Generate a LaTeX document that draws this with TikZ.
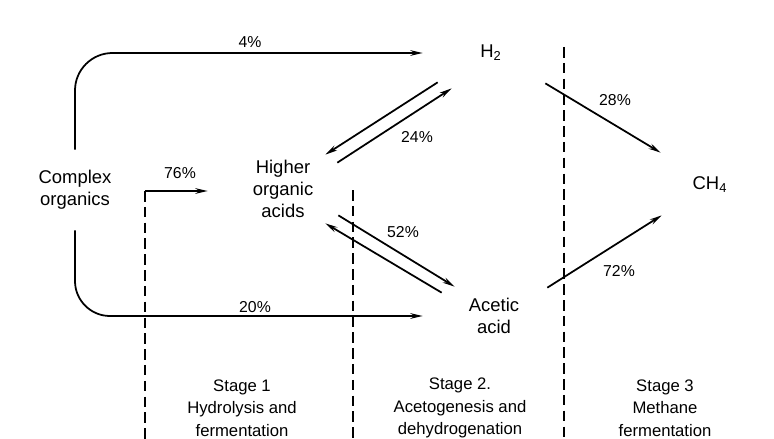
\documentclass[tikz,border=0pt]{standalone}
\usepackage{fontspec}
\setmainfont{Liberation Sans}
\usetikzlibrary{arrows.meta}

\begin{document}
\begin{tikzpicture}[x=0.02cm,y=-0.02cm,
        blob/.style={inner sep=0pt,align=center,font=\fontsize{10.5}{12.5}\selectfont},
        pct/.style={font=\fontsize{9}{11}\selectfont},
        stage/.style={align=center,font=\fontsize{9.5}{12.8}\selectfont},
        flow/.style={line width=1pt,-{Stealth[length=7pt,width=3.2pt]}},
        border/.style={line width=0.9pt,dash pattern=on 6pt off 3pt}]
    \useasboundingbox (0,0) rectangle (774,439);
    % substances
    \node[blob,minimum width=2cm,minimum height=1.6cm] (co) at (75,190) {Complex\\organics};
    \node[blob,minimum width=1.92cm,minimum height=1.2cm] (hoa) at (283,189) {Higher\\organic\\acids};
    \node[blob,minimum width=2.72cm,minimum height=1.28cm] (h2) at (491,53) {H\textsubscript{2}};
    \node[blob,minimum width=2.84cm,minimum height=1.04cm] (aa) at (494,316) {Acetic\\acid};
    \node[blob,minimum width=1.96cm,minimum height=1.28cm] (ch4) at (710,185) {CH\textsubscript{4}};
    % stage borders
    \coordinate (d1t) at (145,191);
    \coordinate (d1b) at (145,439);
    \coordinate (d2t) at (353,190);
    \coordinate (d2b) at (353,439);
    \coordinate (d3t) at (564,47);
    \coordinate (d3b) at (564,439);
    \draw[border] (d1t) -- (d1b);
    \draw[border] (d2t) -- (d2b);
    \draw[border] (d3t) -- (d3b);
    % flows
    \draw[flow,rounded corners=0.75cm] (co.north) |- (h2.west);
    \draw[flow,rounded corners=0.7cm] (co.south) |- (aa.west);
    \draw[flow,shorten >=0.54cm] (d1t) -- (d1t -| hoa.west);
    \draw[flow] ([shift={(15,-3)}]h2.south west) -- ([shift={(-6,-4)}]hoa.north east);
    \draw[flow] ([shift={(6,4)}]hoa.north east) -- ([shift={(29,3)}]h2.south west);
    \draw[flow] ([shift={(7,-4)}]hoa.south east) -- ([shift={(32,-3)}]aa.north west);
    \draw[flow] ([shift={(19,3)}]aa.north west) -- ([shift={(-6,4)}]hoa.south east);
    \draw[flow] ([shift={(-14,-2)}]h2.south east) -- (ch4.north west);
    \draw[flow] ([shift={(-18,-2)}]aa.north east) -- ([shift={(1,-2)}]ch4.south west);
    % percentages
    \node[pct] (p4) at (250,42) {4\%};
    \node[pct] (p76) at (180,173) {76\%};
    \node[pct] (p24) at (417,137) {24\%};
    \node[pct] (p28) at (615,100) {28\%};
    \node[pct] (p52) at (403,232) {52\%};
    \node[pct] (p72) at (619,271) {72\%};
    \node[pct] (p20) at (255,307) {20\%};
    % stages
    \node[stage] (s1) at (242,408) {Stage 1\\Hydrolysis and\\fermentation};
    \node[stage] (s2) at (460,408) {Stage 2.\\Acetogenesis and\\dehydrogenation};
    \node[stage] (s3) at (665,408) {Stage 3\\Methane\\fermentation};
\end{tikzpicture}
\end{document}
